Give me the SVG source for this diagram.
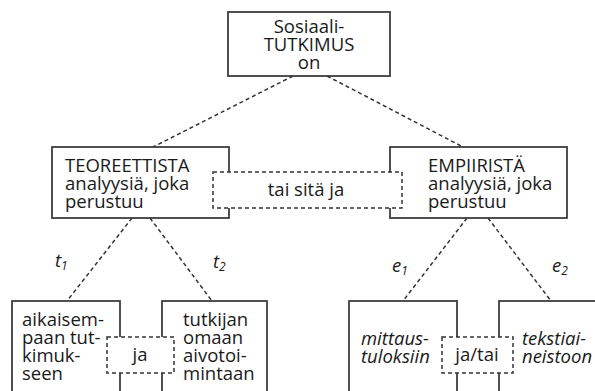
<svg xmlns="http://www.w3.org/2000/svg" width="595" height="391" viewBox="0 0 595 391">
  <style>
    .box { fill: #fff; stroke: #333; stroke-width: 1.7; }
    .dbox { fill: #fff; stroke: #333; stroke-width: 1.5; stroke-dasharray: 4 3; }
    .link { fill: none; stroke: #333; stroke-width: 1.5; stroke-dasharray: 4 3; }
    text { font-family: "Open Sans", "Noto Sans", sans-serif; font-size: 18.5px; font-weight: 500; fill: #1a1a1a; }
    .it { font-style: italic; }
    .sub { font-size: 12px; }
  </style>
  <rect width="595" height="391" fill="#fff"/>

  <g id="connectors">
    <line class="link" x1="293" y1="76" x2="153" y2="147"/>
    <line class="link" x1="327" y1="76" x2="463" y2="147"/>
    <line class="link" x1="132" y1="218" x2="67" y2="301"/>
    <line class="link" x1="150" y1="218" x2="212" y2="301"/>
    <line class="link" x1="467" y1="218" x2="403" y2="301"/>
    <line class="link" x1="488" y1="218" x2="551" y2="301"/>
  </g>

  <g id="root">
    <rect class="box" x="228" y="12" width="162" height="64"/>
    <text x="309" y="33" text-anchor="middle">Sosiaali-</text>
    <text x="309" y="51" text-anchor="middle">TUTKIMUS</text>
    <text x="309" y="69" text-anchor="middle">on</text>
  </g>

  <g id="theoretical">
    <rect class="box" x="52" y="147" width="177" height="71"/>
    <text x="65" y="172">TEOREETTISTA</text>
    <text x="65" y="190">analyysiä, joka</text>
    <text x="65" y="208">perustuu</text>
  </g>

  <g id="empirical">
    <rect class="box" x="390" y="147" width="177" height="71"/>
    <text x="428" y="172">EMPIIRISTÄ</text>
    <text x="428" y="190">analyysiä, joka</text>
    <text x="428" y="208">perustuu</text>
  </g>

  <g id="or-and">
    <rect class="dbox" x="213" y="172" width="189" height="36"/>
    <text x="306" y="196" text-anchor="middle">tai sitä ja</text>
  </g>

  <g id="t1-label">
    <text class="it" x="55" y="267">t<tspan class="sub" dy="3">1</tspan></text>
  </g>
  <g id="t2-label">
    <text class="it" x="213" y="268">t<tspan class="sub" dy="3">2</tspan></text>
  </g>
  <g id="e1-label">
    <text class="it" x="392" y="272">e<tspan class="sub" dy="3">1</tspan></text>
  </g>
  <g id="e2-label">
    <text class="it" x="552" y="272">e<tspan class="sub" dy="3">2</tspan></text>
  </g>

  <g id="previous-research">
    <rect class="box" x="12" y="301" width="108" height="100"/>
    <text x="22" y="326">aikaisem-</text>
    <text x="22" y="344">paan tut-</text>
    <text x="22" y="362">kimuk-</text>
    <text x="22" y="380">seen</text>
  </g>

  <g id="own-thinking">
    <rect class="box" x="162" y="301" width="105" height="100"/>
    <text x="183" y="326">tutkijan</text>
    <text x="183" y="344">omaan</text>
    <text x="183" y="362">aivotoi-</text>
    <text x="183" y="380">mintaan</text>
  </g>

  <g id="and">
    <rect class="dbox" x="107" y="337" width="67" height="36"/>
    <text x="140" y="361" text-anchor="middle">ja</text>
  </g>

  <g id="measurements">
    <rect class="box" x="349" y="301" width="108" height="100"/>
    <text class="it" x="361" y="345">mittaus-</text>
    <text class="it" x="361" y="363">tuloksiin</text>
  </g>

  <g id="texts">
    <rect class="box" x="499" y="301" width="110" height="100"/>
    <text class="it" x="522" y="345">tekstiai-</text>
    <text class="it" x="522" y="363">neistoon</text>
  </g>

  <g id="and-or">
    <rect class="dbox" x="442" y="337" width="71" height="36"/>
    <text x="477" y="361" text-anchor="middle">ja/tai</text>
  </g>
</svg>
